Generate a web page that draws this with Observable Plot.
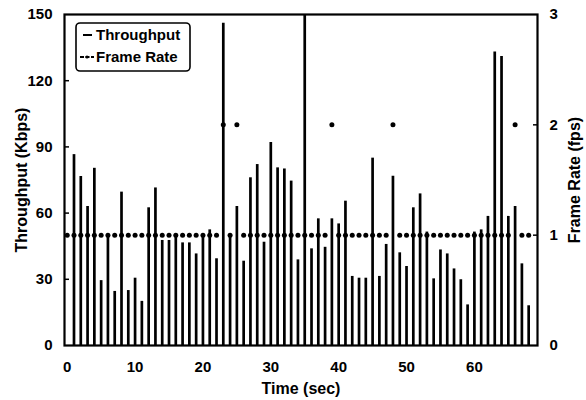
<!DOCTYPE html>
<html><head><meta charset="utf-8">
<script src="https://cdn.jsdelivr.net/npm/d3@7"></script>
<script src="https://cdn.jsdelivr.net/npm/@observablehq/plot@0.6"></script>
<style>
body{margin:0;background:#fff;}
#wrap{position:relative;width:586px;height:400px;}
#legend{position:absolute;left:75px;top:22px;}
</style></head><body><div id="wrap"></div>
<script>
// seconds with a throughput sample
const times = [1,2,3,4,5,6,7,8,9,10,11,12,13,14,15,16,17,18,19,20,21,22,23,24,25,26,27,28,29,30,31,32,33,34,35,36,37,38,39,40,41,42,43,44,45,46,47,48,49,50,51,52,53,54,55,56,57,58,59,60,61,62,63,64,65,66,67,68];
// throughput (Kbps)
const throughput = [86.5,76.6,63,80.3,29.4,50.3,24.5,69.5,24.9,30.5,20,62.4,71.4,47.6,47.6,50,46.5,46.5,41.5,49,52.4,39.3,146,49,63,38.2,76,82,46.8,92,80.5,80,74.5,38.8,150,43.8,57.4,44.5,57.4,55.1,65.4,31.3,30.5,30.5,84.9,31.3,45.8,76.7,42,35.8,62.4,68.7,51.4,30.2,43.3,41.5,34.7,29.8,18.4,51.4,52.4,58.5,133,131,58.5,63,37,18];
// seconds with a frame-rate sample
const frameTimes = [0,1,2,3,4,5,6,7,8,9,10,11,12,13,14,15,16,17,18,19,20,21,22,23,24,25,26,27,28,29,30,31,32,33,34,35,36,37,38,39,40,41,42,43,44,45,46,47,48,49,50,51,52,53,54,55,56,57,58,59,60,61,62,63,64,65,66,67,68];
// frame rate (fps)
const frameRate = [1,1,1,1,1,1,1,1,1,1,1,1,1,1,1,1,1,1,1,1,1,1,1,2,1,2,1,1,1,1,1,1,1,1,1,1,1,1,1,2,1,1,1,1,1,1,1,1,2,1,1,1,1,1,1,1,1,1,1,1,1,1,1,1,1,1,2,1,1];
// tick labels
const xTicks = [0,10,20,30,40,50,60];
const yTicks = [0,30,60,90,120,150];
const yInnerTicks = [30,60,90,120];
const frTicks = [0,1,2,3];
const frInnerTicks = [1,2];

const FR = 50; // 1 fps shares the position of 50 Kbps
const rows = times.map((t,i)=>({t, v: throughput[i]}));
const frows = frameTimes.map((t,i)=>({t, f: frameRate[i]}));
const font = "Liberation Sans, Arial, sans-serif";

const chart = Plot.plot({
  width:586, height:400,
  marginLeft:64, marginRight:49, marginTop:14, marginBottom:55,
  style:{fontFamily:font, fontWeight:"bold", fontSize:"15px", color:"#000", background:"#fff"},
  x:{domain:[-0.4,69.3]},
  y:{domain:[0,150]},
  marks:[
    Plot.ruleX(rows,{x:"t", y1:0, y2:"v", stroke:"#000", strokeWidth:2.7}),
    Plot.dot(frows,{x:"t", y:d=>d.f*FR, r:2.5, fill:"#000", stroke:null}),
    Plot.frame({stroke:"#000", strokeWidth:2.2}),
    Plot.axisX({ticks:xTicks, tickSize:0, tickPadding:16, label:null, fontSize:15}),
    Plot.axisX({ticks:[], label:"Time (sec)", labelArrow:false, labelAnchor:"center", labelOffset:48, fontSize:16}),
    Plot.axisY({anchor:"left", ticks:yTicks, tickSize:0, tickPadding:12, label:null, fontSize:15}),
    Plot.axisY({anchor:"left", ticks:[], label:"Throughput (Kbps)", labelArrow:false, labelAnchor:"center", labelOffset:49, fontSize:16}),
    Plot.axisY({anchor:"left", ticks:yInnerTicks, tickSize:5, dx:5, strokeWidth:1.5, tickFormat:()=>"", label:null}),
    Plot.axisY({anchor:"right", ticks:frTicks.map(d=>d*FR), tickFormat:d=>d/FR, tickSize:0, tickPadding:12, label:null, fontSize:15}),
    Plot.axisY({anchor:"right", ticks:[], label:"Frame Rate (fps)", labelArrow:false, labelAnchor:"center", labelOffset:42, fontSize:16}),
    Plot.axisY({anchor:"right", ticks:frInnerTicks.map(d=>d*FR), tickSize:5, dx:-5, strokeWidth:1.5, tickFormat:()=>"", label:null})
  ]
});
const wrap = document.getElementById("wrap");
wrap.appendChild(chart);

const legend = document.createElement("div");
legend.id = "legend";
legend.innerHTML = `<svg width="116" height="50" xmlns="http://www.w3.org/2000/svg" style="font-family:${font};font-weight:bold;font-size:15px">
  <rect x="1" y="1" width="114" height="48" rx="4" fill="#fff" stroke="#000" stroke-width="1.6"/>
  <line x1="8" y1="13" x2="17" y2="13" stroke="#000" stroke-width="2"/>
  <text x="21" y="18">Throughput</text>
  <line x1="5" y1="35" x2="19" y2="35" stroke="#000" stroke-width="2" stroke-dasharray="4 1.5"/>
  <circle cx="12" cy="35" r="1.6" fill="#000"/>
  <text x="21" y="40">Frame Rate</text>
</svg>`;
wrap.appendChild(legend);
</script></body></html>
